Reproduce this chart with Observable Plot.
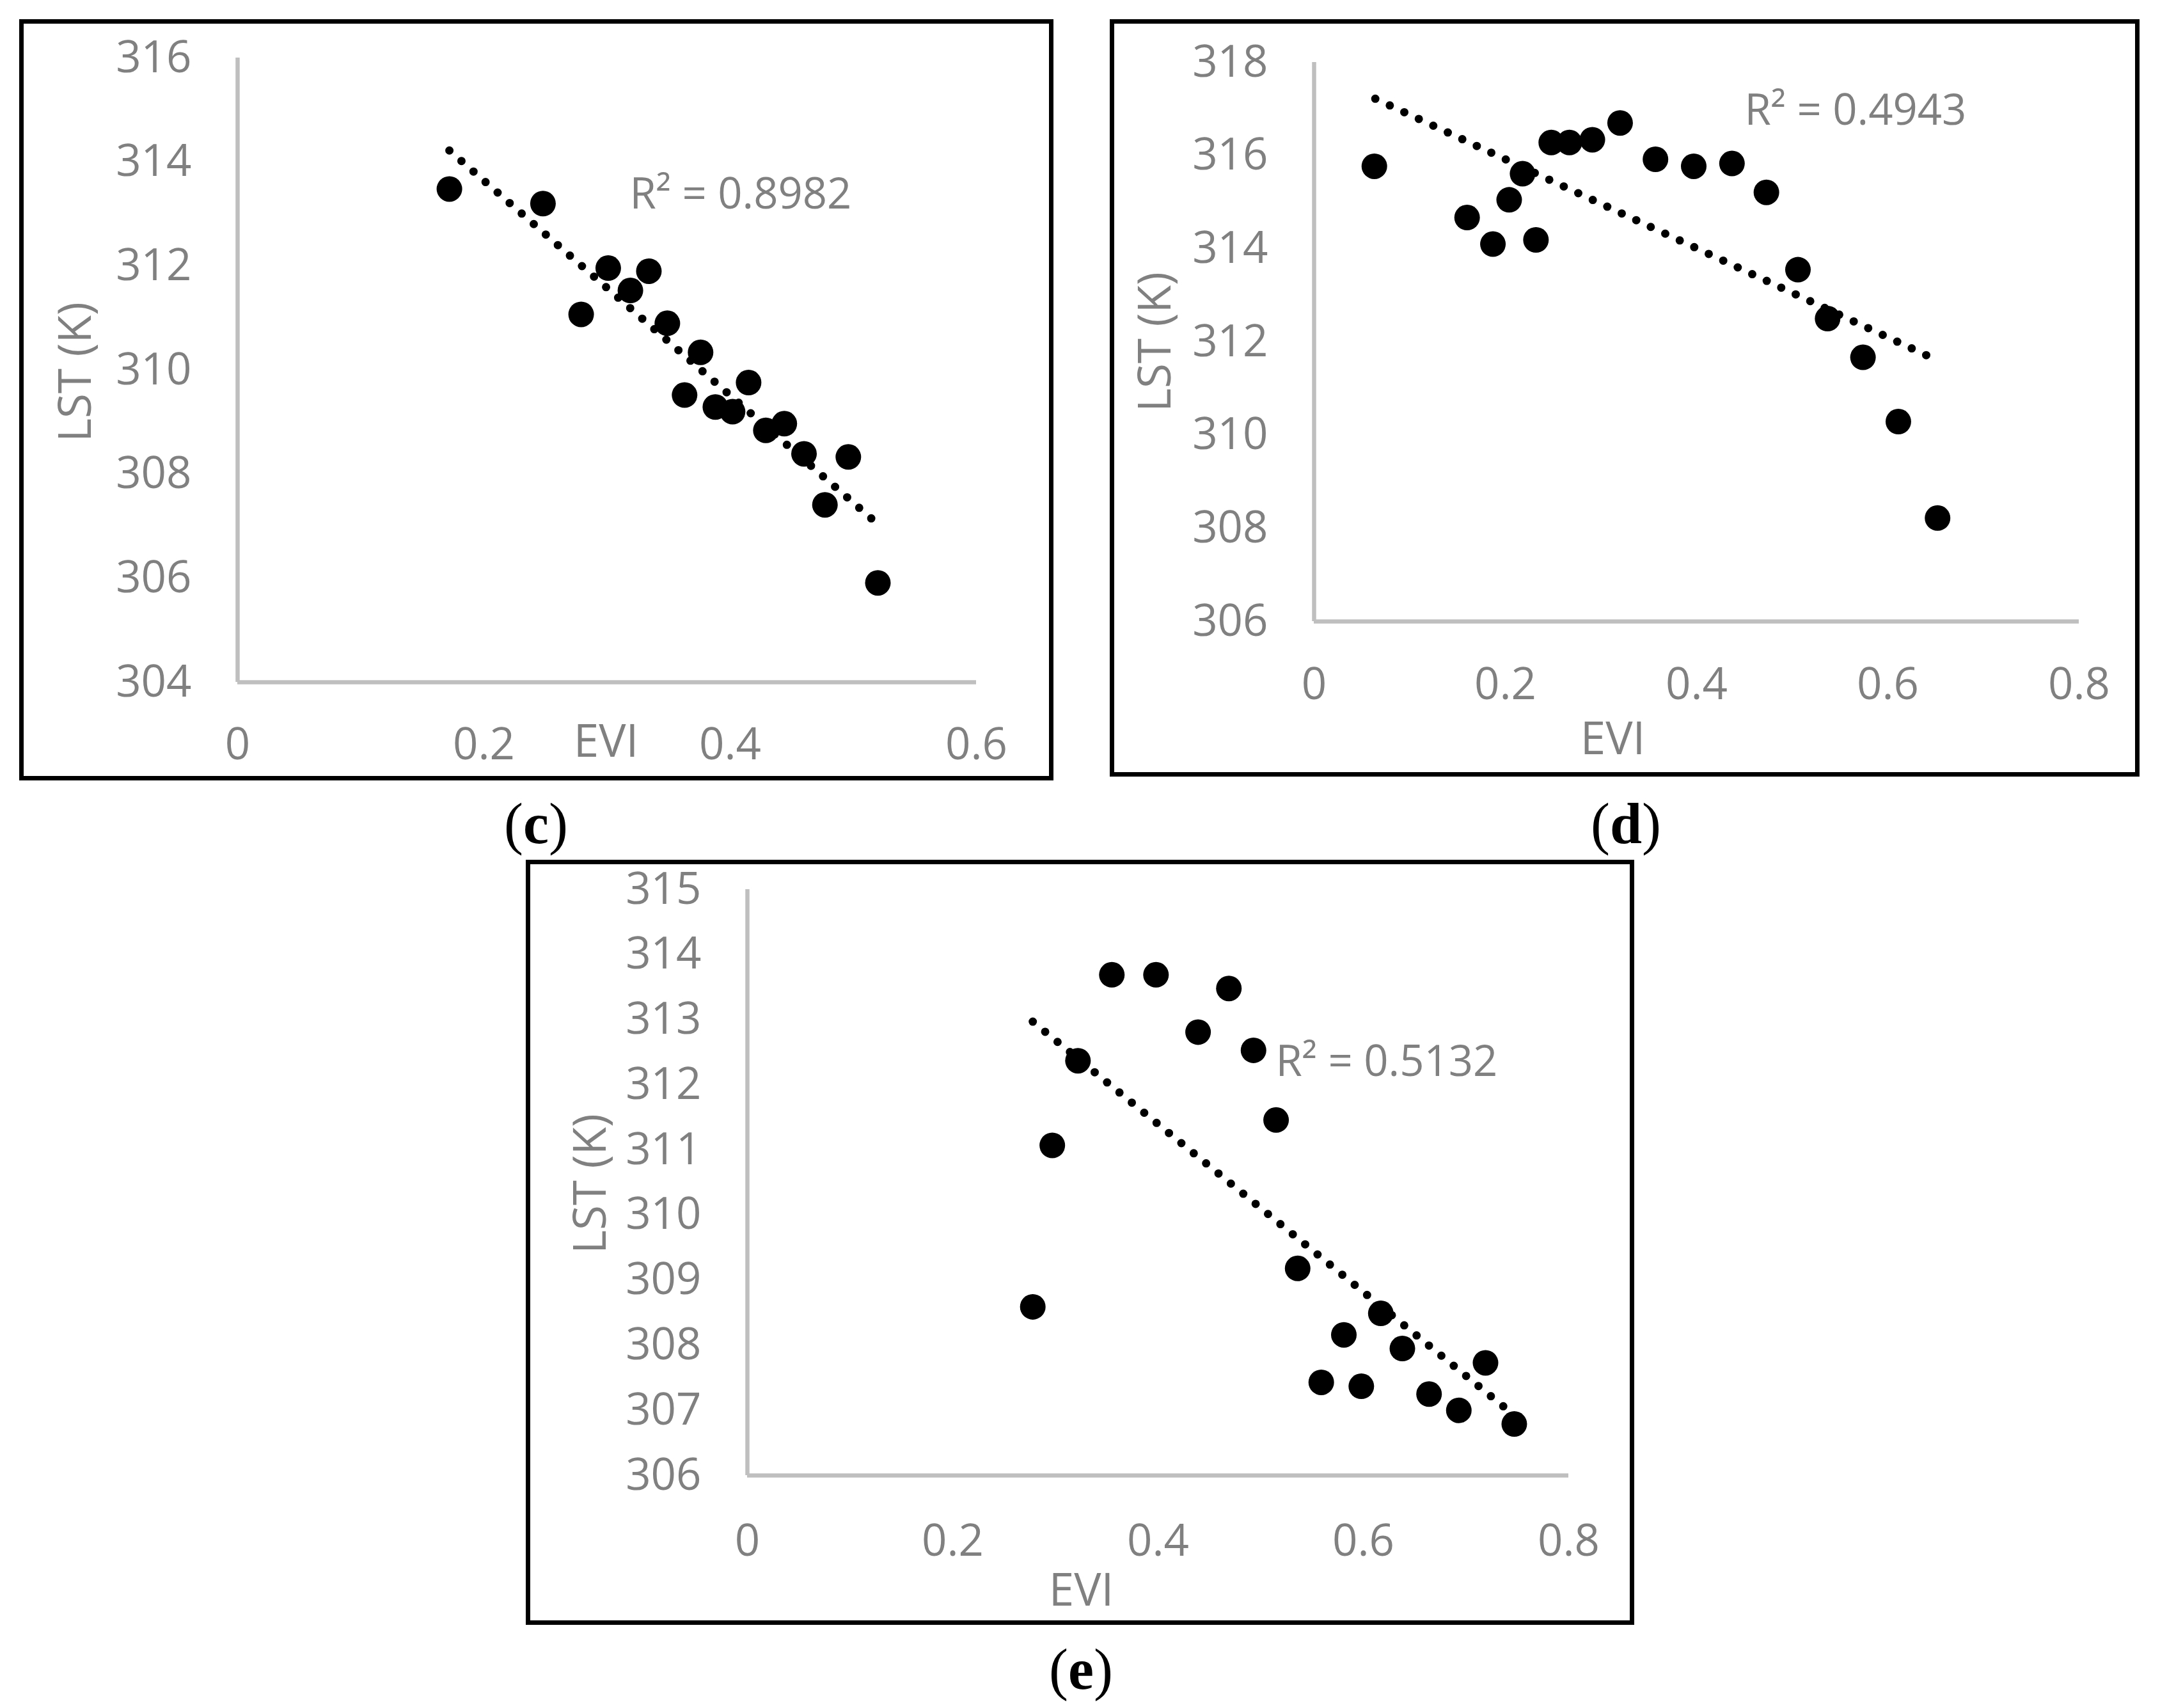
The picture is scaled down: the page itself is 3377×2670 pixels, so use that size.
<!DOCTYPE html>
<html>
<head>
<meta charset="utf-8">
<script src="https://cdn.jsdelivr.net/npm/d3@7"></script>
<script src="https://cdn.jsdelivr.net/npm/@observablehq/plot@0.6"></script>
<style>
  html, body { margin: 0; padding: 0; background: #fff; }
  #page { position: relative; width: 3377px; height: 2670px; background: #fff; overflow: hidden; }
  .box { position: absolute; border: 7px solid #000; box-sizing: content-box; background: #fff; }
  .box svg { display: block; }
  .tag { position: absolute; font-family: "Liberation Serif", "Times New Roman", serif; font-weight: normal;
         font-size: 90px; line-height: 1; transform: translate(-50%, -50%); color: #000; white-space: nowrap; }
  .tag b { font-weight: bold; }
</style>
</head>
<body>
<div id="page"></div>
<script>
// ---------- Data ----------
// Panel (c)
const cEVI = [0.172,0.248,0.279,0.301,0.319,0.334,0.349,0.363,0.376,0.388,0.402,0.415,0.429,0.444,0.460,0.477,0.496,0.520];
const cLST = [313.48,313.20,311.07,311.96,311.53,311.90,310.90,309.52,310.34,309.29,309.20,309.76,308.84,308.97,308.39,307.41,308.33,305.91];
const cTrendEVI = [0.172, 0.518];
const cTrendLST = [314.22, 307.08];
const cR2 = "R² = 0.8982";
const cXTicks = [0, 0.2, 0.4, 0.6];
const cYTicks = [304, 306, 308, 310, 312, 314, 316];

// Panel (d)
const dEVI = [0.063,0.160,0.187,0.204,0.218,0.232,0.248,0.267,0.291,0.320,0.357,0.397,0.437,0.473,0.506,0.537,0.574,0.611,0.652];
const dLST = [315.77,314.67,314.10,315.05,315.61,314.19,316.28,316.28,316.34,316.70,315.92,315.77,315.83,315.21,313.55,312.50,311.67,310.29,308.22];
const dTrendEVI = [0.064, 0.645];
const dTrendLST = [317.22, 311.67];
const dR2 = "R² = 0.4943";
const dXTicks = [0, 0.2, 0.4, 0.6, 0.8];
const dYTicks = [306, 308, 310, 312, 314, 316, 318];

// Panel (e)
const eEVI = [0.278,0.297,0.322,0.355,0.398,0.439,0.469,0.493,0.515,0.536,0.559,0.581,0.598,0.617,0.638,0.664,0.693,0.719,0.747];
const eLST = [308.59,311.07,312.37,313.69,313.69,312.81,313.48,312.53,311.46,309.18,307.43,308.16,307.37,308.49,307.95,307.25,307.00,307.73,306.79];
const eTrendEVI = [0.278, 0.745];
const eTrendLST = [312.97, 306.95];
const eR2 = "R² = 0.5132";
const eXTicks = [0, 0.2, 0.4, 0.6, 0.8];
const eYTicks = [306, 307, 308, 309, 310, 311, 312, 313, 314, 315];

const xTitle = "EVI";
const yTitle = "LST (K)";

// ---------- Drawing ----------
const page = document.getElementById("page");
const GRAY = "#808080";
const AXIS = "#bfbfbf";

function zip(xs, ys) { return xs.map((x, i) => ({x, y: ys[i]})); }

function panel(o) {
  const W = o.R - o.L - 14, H = o.B - o.T - 14;
  const box = document.createElement("div");
  box.className = "box";
  box.style.left = o.L + "px"; box.style.top = o.T + "px";
  box.style.width = W + "px"; box.style.height = H + "px";
  const pts = zip(o.xs, o.ys);
  const trend = zip(o.tx, o.ty);
  const chart = Plot.plot({
    width: W, height: H,
    marginLeft: o.mL, marginRight: o.mR, marginTop: o.mT, marginBottom: o.mB,
    style: {fontFamily: "'Open Sans', sans-serif", fontSize: "69px", color: GRAY, background: "transparent", overflow: "visible"},
    x: {domain: o.xDomain, ticks: o.xTicks},
    y: {domain: o.yDomain, ticks: o.yTicks},
    marks: [
      Plot.ruleX([o.xDomain[0]], {stroke: AXIS, strokeWidth: 6.5}),
      Plot.ruleY([o.yDomain[0]], {stroke: AXIS, strokeWidth: 6.5}),
      Plot.axisX({ticks: o.xTicks, tickSize: 0, tickPadding: o.xPad, label: null, fill: GRAY, tickFormat: d3.format("")}),
      Plot.axisY({ticks: o.yTicks, tickSize: 0, tickPadding: 72, label: null, fill: GRAY, tickFormat: d3.format("")}),
      Plot.line(trend, {x: "x", y: "y", stroke: "#000", strokeWidth: 13, strokeDasharray: "0 25", strokeLinecap: "round"}),
      Plot.dot(pts, {x: "x", y: "y", r: 20, fill: "#000", stroke: "none"}),
      Plot.text([o.r2], {text: d => d, frameAnchor: "top-left", dx: o.r2dx, dy: o.r2dy, textAnchor: "start", lineAnchor: "middle", fill: GRAY, fontSize: 67}),
      Plot.text([xTitle], {text: d => d, frameAnchor: "bottom-left", dx: o.xtdx, dy: o.xtdy, textAnchor: "middle", lineAnchor: "middle", fill: GRAY, fontSize: 71}),
      Plot.text([yTitle], {text: d => d, frameAnchor: "left", dx: o.ytdx, dy: o.ytdy, rotate: -90, textAnchor: "middle", lineAnchor: "middle", fill: GRAY, fontSize: 71})
    ]
  });
  box.appendChild(chart);
  page.appendChild(box);
  const tag = document.createElement("div");
  tag.className = "tag";
  tag.innerHTML = "(<b>" + o.tag + "</b>)";
  tag.style.left = o.tagX + "px"; tag.style.top = (o.tagY - 8) + "px";
  page.appendChild(tag);
}

panel({L: 30, T: 30, R: 1647, B: 1220, mL: 334, mR: 114, mT: 53, mB: 147,
  xs: cEVI, ys: cLST, tx: cTrendEVI, ty: cTrendLST, r2: cR2,
  xDomain: [0, 0.6], yDomain: [304, 316], xTicks: cXTicks, yTicks: cYTicks, xPad: 71,
  r2dx: 613, r2dy: 214, xtdx: 576, xtdy: 94, ytdx: -252, ytdy: 3,
  tag: "c", tagX: 838, tagY: 1296});

panel({L: 1735, T: 30, R: 3345, B: 1214, mL: 312, mR: 88, mT: 60, mB: 236,
  xs: dEVI, ys: dLST, tx: dTrendEVI, ty: dTrendLST, r2: dR2,
  xDomain: [0, 0.8], yDomain: [306, 318], xTicks: dXTicks, yTicks: dYTicks, xPad: 72,
  r2dx: 673, r2dy: 76, xtdx: 467, xtdy: 185, ytdx: -247, ytdy: 0,
  tag: "d", tagX: 2542, tagY: 1296});

panel({L: 822, T: 1344, R: 2555, B: 2540, mL: 339, mR: 96, mT: 39, mB: 227,
  xs: eEVI, ys: eLST, tx: eTrendEVI, ty: eTrendLST, r2: eR2,
  xDomain: [0, 0.8], yDomain: [306, 315], xTicks: eXTicks, yTicks: eYTicks, xPad: 76,
  r2dx: 826, r2dy: 270, xtdx: 522, xtdy: 181, ytdx: -244, ytdy: 2,
  tag: "e", tagX: 1690, tagY: 2618});
</script>
</body>
</html>
